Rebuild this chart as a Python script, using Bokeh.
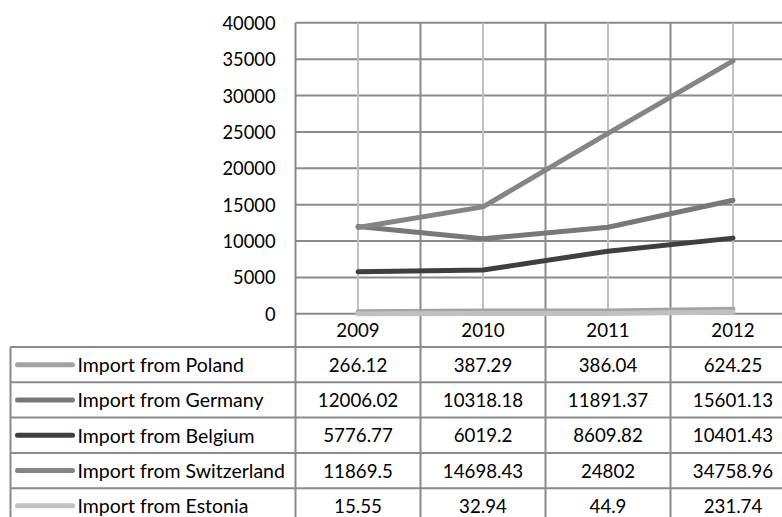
from bokeh.plotting import figure
from bokeh.models import Range1d, FixedTicker, LinearAxis
from bokeh.core.properties import value
from bokeh.embed import file_html
from bokeh.resources import INLINE

# ---------------- data ----------------
years = [2009, 2010, 2011, 2012]
year_labels = ["2009", "2010", "2011", "2012"]
series_names = ["Import from Poland", "Import from Germany", "Import from Belgium",
                "Import from Switzerland", "Import from Estonia"]
poland = [266.12, 387.29, 386.04, 624.25]
germany = [12006.02, 10318.18, 11891.37, 15601.13]
belgium = [5776.77, 6019.2, 8609.82, 10401.43]
switzerland = [11869.5, 14698.43, 24802, 34758.96]
estonia = [15.55, 32.94, 44.9, 231.74]
value_labels = [
    ["266.12", "387.29", "386.04", "624.25"],
    ["12006.02", "10318.18", "11891.37", "15601.13"],
    ["5776.77", "6019.2", "8609.82", "10401.43"],
    ["11869.5", "14698.43", "24802", "34758.96"],
    ["15.55", "32.94", "44.9", "231.74"],
]
y_ticks = [0, 5000, 10000, 15000, 20000, 25000, 30000, 35000, 40000]

series = [poland, germany, belgium, switzerland, estonia]
colors = ["#a3a3a3", "#787878", "#3f3f3f", "#858585", "#c0c0c0"]

FONT = "Lato"
FS_TICK = "18.3px"
FS_VAL = "18.7px"
FS_NAME = "19.5px"
GRID = "#8a8a8a"
LIGHT = "#c0c0c0"

# ---------------- geometry ----------------
W, H = 782, 517
PXY = 125.0                    # pixels per year
X0 = years[0] - 0.5            # plot-area left edge (at 295 px)
x_start = X0 - 295 / PXY
x_end = X0 + (W - 295) / PXY

ymax = y_ticks[-1]
px_top, px_zero = 22.3, 313.3
k = ymax / (px_zero - px_top)  # data units per pixel
y_start = -(H - px_zero) * k
y_end = ymax + px_top * k


def ypx(py):
    """pixel row (from top) -> data y"""
    return (px_zero - py) * k


p = figure(width=W, height=H, output_backend="svg", toolbar_location=None,
           x_range=Range1d(x_start, x_end), y_range=Range1d(y_start, y_end),
           min_border_left=0, min_border_right=0, min_border_top=0,
           min_border_bottom=0, x_axis_location=None, y_axis_location=None)
p.outline_line_color = None
p.background_fill_color = "white"
p.border_fill_color = "white"
p.grid.visible = False

# y axis drawn at the plot-area left edge
yax = LinearAxis(ticker=FixedTicker(ticks=y_ticks), fixed_location=X0)
yax.axis_line_color = None
yax.major_tick_line_color = None
yax.minor_tick_line_color = None
yax.major_label_text_font = FONT
yax.major_label_text_font_size = FS_TICK
yax.major_label_text_color = "#000000"
yax.major_label_standoff = 14
p.add_layout(yax, "left")

# horizontal grid lines
p.segment(x0=[X0] * len(y_ticks), y0=y_ticks, x1=[x_end] * len(y_ticks),
          y1=y_ticks, line_color=GRID, line_width=2)
# light vertical lines at category centres
p.segment(x0=years, y0=[0] * 4, x1=years, y1=[ymax] * 4,
          line_color=LIGHT, line_width=2)

# ---------------- table ----------------
n = len(series_names)
tbl_top = 346.5
row_h = 35.3
row_lines = [ypx(tbl_top + i * row_h) for i in range(n + 1)]
row_c = [ypx(tbl_top + (i + 0.5) * row_h) for i in range(n)]
x_left = X0 - 285 / PXY

# dark vertical lines at category boundaries (through the table)
bounds = [y - 0.5 for y in years]
p.segment(x0=bounds, y0=[ymax] * 4, x1=bounds, y1=[y_start] * 4,
          line_color=GRID, line_width=2)
# table rows
p.segment(x0=[x_left] * (n + 1), y0=row_lines, x1=[x_end] * (n + 1),
          y1=row_lines, line_color=GRID, line_width=2)
p.segment(x0=[x_left], y0=[row_lines[0]], x1=[x_left], y1=[y_start],
          line_color=GRID, line_width=2)

# series lines
for vals, col in zip(series, colors):
    p.line(years, vals, line_color=col, line_width=5, line_join="round",
           line_cap="round")

# year labels
p.text(x=years, y=[ypx(329.5)] * 4, text=year_labels, text_font=value(FONT),
       text_font_size=FS_VAL, text_align="center", text_baseline="middle",
       text_color="#000000")

# legend swatches
p.segment(x0=[X0 - 278 / PXY] * n, y0=row_c, x1=[X0 - 223 / PXY] * n, y1=row_c,
          line_color=colors, line_width=5, line_cap="round")
# series names
p.text(x=[X0 - 218 / PXY] * n, y=row_c, text=series_names,
       text_font=value(FONT), text_font_size=FS_NAME, text_align="left",
       text_baseline="middle", text_color="#000000")
# values
vx, vy, vt = [], [], []
for i, labs in enumerate(value_labels):
    for yr, lab in zip(years, labs):
        vx.append(yr)
        vy.append(row_c[i])
        vt.append(lab)
p.text(x=vx, y=vy, text=vt, text_font=value(FONT), text_font_size=FS_VAL,
       text_align="center", text_baseline="middle", text_color="#000000")

open("out.html", "w").write(file_html(p, INLINE))
